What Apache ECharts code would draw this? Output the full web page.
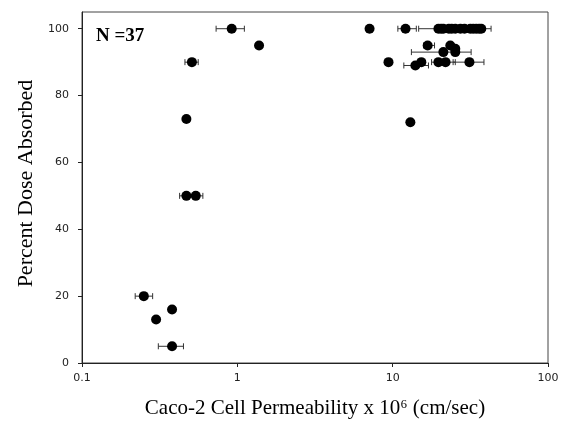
<!DOCTYPE html>
<html>
<head>
<meta charset="utf-8">
<script src="https://cdn.jsdelivr.net/npm/echarts@6/dist/echarts.min.js"></script>
<style>
html,body{margin:0;padding:0;background:#fff;}
#chart{width:563px;height:433px;}
</style>
</head>
<body>
<div id="chart"></div>
<script>
// Caco-2 permeability (x 10^6 cm/sec) and percent dose absorbed
const permeability = [
  0.92, 1.38, 0.51, 0.47, 0.47, 0.54, 0.25, 0.38, 0.30, 0.38,
  7.1, 12.1, 19.7, 20.5, 21.2, 23, 24, 25.3, 27.3, 29, 31.6, 33, 34.5, 36, 37.2,
  16.8, 23.5, 25.3,
  21.2, 25.3,
  9.4, 14.0, 15.3, 19.7, 21.9, 31.2,
  13
];
const absorbed = [
  100, 95, 90, 73, 50, 50, 20, 16, 13, 5,
  100, 100, 100, 100, 100, 100, 100, 100, 100, 100, 100, 100, 100, 100, 100,
  95, 95, 94,
  93, 93,
  90, 89, 90, 90, 90, 90,
  72
];
// horizontal error bars
const errY    = [100, 90, 50, 20, 5, 100, 100, 95, 93, 93, 89, 90, 90];
const errLow  = [0.73, 0.46, 0.425, 0.22, 0.31, 10.8, 14.7, 15.8, 13.2, 25.3, 11.8, 17.8, 24.5];
const errHigh = [1.11, 0.56, 0.60, 0.285, 0.45, 14.2, 43, 18.6, 25, 32, 17, 25.3, 38.7];
const xTicks = [0.1, 1, 10, 100];
const yTicks = [0, 20, 40, 60, 80, 100];
const annotation = 'N =37';

const points = permeability.map((v, i) => [v, absorbed[i]]);
const errData = errY.map((y, i) => [errLow[i], errHigh[i], y]);

const chart = echarts.init(document.getElementById('chart'), null, {renderer: 'canvas'});
const tickFont = {fontFamily: 'DejaVu Sans', fontSize: 11, color: '#222'};
chart.setOption({
  animation: false,
  backgroundColor: '#fff',
  grid: {left: 82, right: 15, top: 12, bottom: 70, show: true, borderColor: '#444', borderWidth: 1},
  title: {
    text: annotation, left: 91, top: 22,
    textStyle: {fontFamily: 'Liberation Serif', fontSize: 19, fontWeight: 'bold', color: '#000'}
  },
  xAxis: {
    type: 'log', logBase: 10, min: xTicks[0], max: xTicks[xTicks.length - 1],
    name: 'Caco-2 Cell Permeability x 10\u2076 (cm/sec)',
    nameLocation: 'middle', nameGap: 35,
    nameTextStyle: {fontFamily: 'Liberation Serif', fontSize: 21, color: '#000'},
    axisLine: {lineStyle: {color: '#222', width: 1}},
    axisTick: {show: true, inside: false, length: 4, lineStyle: {color: '#222'}},
    minorTick: {show: false},
    splitLine: {show: false},
    axisLabel: Object.assign({margin: 10, formatter: v => String(v)}, tickFont)
  },
  yAxis: {
    type: 'value', min: 0, max: 105, interval: 20,
    name: 'Percent Dose Absorbed',
    nameLocation: 'middle', nameGap: 41, nameRotate: 90,
    nameTextStyle: {fontFamily: 'Liberation Serif', fontSize: 22, color: '#000', padding: [0, 0, 0, 8]},
    axisLine: {show: true, lineStyle: {color: '#222', width: 1}},
    axisTick: {show: true, inside: false, length: 4, lineStyle: {color: '#222'}},
    splitLine: {show: false},
    axisLabel: Object.assign({margin: 13, showMaxLabel: false,
      formatter: v => (yTicks.indexOf(v) >= 0 ? String(v) : '')}, tickFont)
  },
  series: [
    {
      type: 'custom',
      z: 1,
      renderItem: function (params, api) {
        const y = api.value(2);
        const p1 = api.coord([api.value(0), y]);
        const p2 = api.coord([api.value(1), y]);
        const h = 3;
        const style = {stroke: '#333', lineWidth: 1};
        return {
          type: 'group',
          children: [
            {type: 'line', shape: {x1: p1[0], y1: p1[1], x2: p2[0], y2: p2[1]}, style: style},
            {type: 'line', shape: {x1: p1[0], y1: p1[1] - h, x2: p1[0], y2: p1[1] + h}, style: style},
            {type: 'line', shape: {x1: p2[0], y1: p2[1] - h, x2: p2[0], y2: p2[1] + h}, style: style}
          ]
        };
      },
      encode: {x: [0, 1], y: 2},
      data: errData,
      silent: true
    },
    {
      type: 'scatter',
      z: 2,
      symbol: 'circle',
      symbolSize: 10,
      itemStyle: {color: '#000', opacity: 1},
      data: points
    }
  ]
});
</script>
</body>
</html>
